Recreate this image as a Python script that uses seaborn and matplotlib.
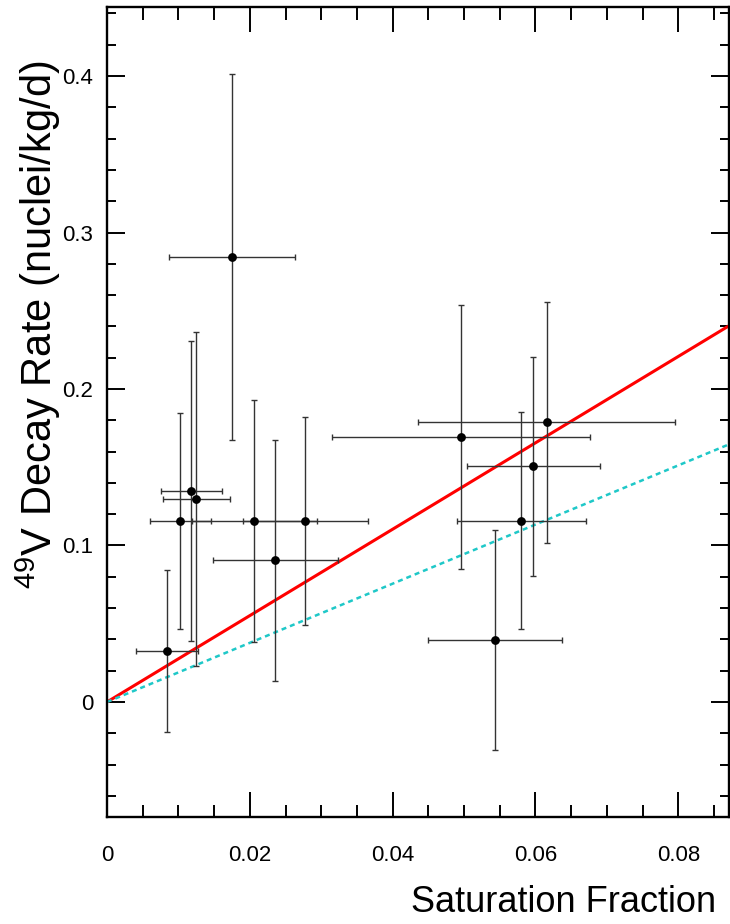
import numpy as np
import pandas as pd
import matplotlib
matplotlib.use("Agg")
import matplotlib.pyplot as plt
import seaborn as sns

sns.set_style("ticks")
plt.rcParams['font.family'] = ['Liberation Sans', 'DejaVu Sans']
plt.rcParams['mathtext.fontset'] = 'custom'
plt.rcParams['mathtext.rm'] = 'Liberation Sans'
plt.rcParams['text.color'] = 'black'
plt.rcParams['xtick.labelcolor'] = 'black'
plt.rcParams['ytick.labelcolor'] = 'black'

# measured points (saturation fraction vs decay rate)
sat_frac = [0.00842, 0.01028, 0.01178, 0.01252, 0.02064, 0.02779, 0.02358,
            0.01752, 0.04959, 0.06158, 0.05968, 0.05800, 0.05436]
sat_err = [0.00436, 0.00430, 0.00427, 0.00465, 0.00870, 0.00870, 0.00876,
           0.00880, 0.01810, 0.01800, 0.00930, 0.00905, 0.00935]
rate = [0.0326, 0.1158, 0.1348, 0.1297, 0.1158, 0.1158, 0.0905,
        0.2841, 0.1695, 0.1787, 0.1506, 0.1158, 0.0396]
rate_err = [0.052, 0.069, 0.096, 0.107, 0.0773, 0.0663, 0.0772,
            0.117, 0.0843, 0.0771, 0.070, 0.0692, 0.0702]

# fitted slopes through the origin
fit_slope = 2.76
alt_slope = 1.89

df = pd.DataFrame({'sat': sat_frac, 'rate': rate})

fig = plt.figure(figsize=(7.30, 9.24), dpi=100)
ax = fig.add_axes([0.1466, 0.1158, 0.852, 0.8766])

xlim = (0, 0.0871)
ylim = (-0.0735, 0.4441)

xx = np.array(xlim)
ax.plot(xx, fit_slope * xx, color='#ff0000', lw=2.2, zorder=2)
ax.plot(xx, alt_slope * xx, color='#1fc8c8', lw=1.8, ls=(0, (2, 1.6)), zorder=2)

ax.errorbar(sat_frac, rate, xerr=sat_err, yerr=rate_err, fmt='none',
            ecolor='0.2', elinewidth=1.0, capsize=2.3, capthick=1.0, zorder=3)
sns.scatterplot(data=df, x='sat', y='rate', ax=ax, color='black', s=40,
                edgecolor='black', linewidth=0, zorder=4, legend=False)

ax.set_xlim(xlim)
ax.set_ylim(ylim)
ax.set_xticks([0, 0.02, 0.04, 0.06, 0.08])
ax.set_xticklabels(['0', '0.02', '0.04', '0.06', '0.08'])
ax.set_xticks(np.arange(0, 0.0871, 0.005), minor=True)
ax.set_yticks([0, 0.1, 0.2, 0.3, 0.4])
ax.set_yticklabels(['0', '0.1', '0.2', '0.3', '0.4'])
ax.set_yticks(np.arange(-0.06, 0.445, 0.02), minor=True)

for s in ax.spines.values():
    s.set_linewidth(1.7)
    s.set_color('black')
    s.set_visible(True)

ax.tick_params(axis='both', which='both', direction='in', top=True, right=True,
               color='black', width=1.4, labelsize=16)
ax.tick_params(axis='x', which='major', length=18, pad=20)
ax.tick_params(axis='x', which='minor', length=9)
ax.tick_params(axis='y', which='major', length=13, pad=10)
ax.tick_params(axis='y', which='minor', length=6.5)

ax.set_xlabel('')
ax.set_ylabel('')

fig.text(38 / 730, 1 - 325 / 924, r'$\mathregular{^{49}}$V Decay Rate (nuclei/kg/d)',
         rotation=90, ha='center', va='center', fontsize=30)
fig.text(716 / 730, 1 - 902 / 924, 'Saturation Fraction',
         ha='right', va='center', fontsize=26)

fig.savefig('out.png', dpi=100)
